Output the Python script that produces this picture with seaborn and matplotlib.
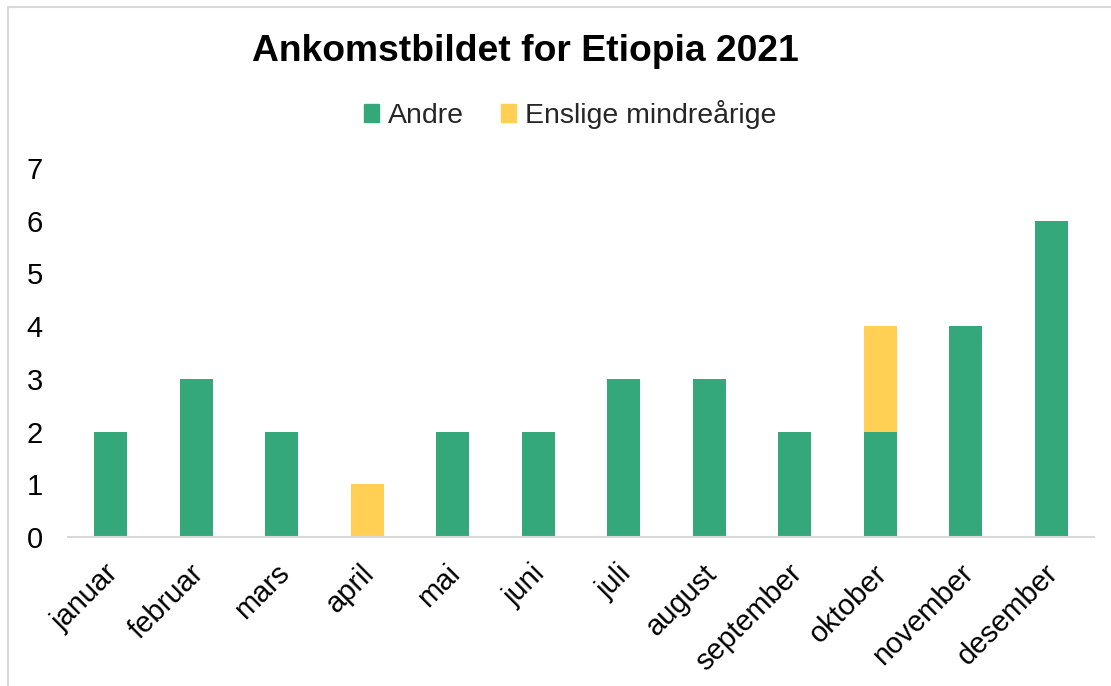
import matplotlib
matplotlib.use("Agg")
import matplotlib.pyplot as plt
import matplotlib.patches as mpatches
import matplotlib.transforms as mtransforms
from matplotlib.lines import Line2D
import seaborn as sns
import pandas as pd

months = ["januar", "februar", "mars", "april", "mai", "juni", "juli",
          "august", "september", "oktober", "november", "desember"]
andre = [2, 3, 2, 0, 2, 2, 3, 3, 2, 2, 4, 6]
enslige = [0, 0, 0, 1, 0, 0, 0, 0, 0, 2, 0, 0]
yticks = [0, 1, 2, 3, 4, 5, 6, 7]

GREEN = "#34A87B"
YELLOW = "#FFD054"

sns.set_theme(style="white")
plt.rcParams["font.family"] = ["Liberation Sans", "DejaVu Sans"]

df = pd.DataFrame({"month": months, "andre": andre, "enslige": enslige})
df["total"] = df["andre"] + df["enslige"]

fig = plt.figure(figsize=(11.11, 6.86), dpi=100)
ax = fig.add_axes([0.0612, 0.2172, 0.9235, 0.5379])

sns.barplot(data=df, x="month", y="total", color=YELLOW, saturation=1,
            width=0.39, ax=ax, edgecolor="none")
sns.barplot(data=df, x="month", y="andre", color=GREEN, saturation=1,
            width=0.39, ax=ax, edgecolor="none")

ax.set_ylim(0, 7)
ax.set_xlim(-0.5, len(months) - 0.5)
ax.set_yticks(yticks)
ax.set_yticklabels([str(t) for t in yticks], fontsize=21, color="black")
ax.set_xticks(range(len(months)))
ax.set_xticklabels(months, rotation=45, ha="right", va="top", rotation_mode="anchor",
                   fontsize=21, color="black")
ax.tick_params(axis="y", length=0, pad=18)
ax.tick_params(axis="x", length=0, pad=16)
shift = mtransforms.ScaledTranslation(-0.07, 0, fig.dpi_scale_trans)
for lab in ax.get_xticklabels():
    lab.set_transform(lab.get_transform() + shift)
ax.set_xlabel("")
ax.set_ylabel("")
for s in ["top", "right", "left"]:
    ax.spines[s].set_visible(False)
ax.spines["bottom"].set_color("#D9D9D9")
ax.spines["bottom"].set_linewidth(1.5)
ax.grid(False)

fig.text(0.4725, 0.925, "Ankomstbildet for Etiopia 2021", ha="center", va="center",
         fontsize=26.8, fontweight="bold", color="black")

handles = [mpatches.Patch(color=GREEN, label="Andre"),
           mpatches.Patch(color=YELLOW, label="Enslige mindreårige")]
fig.legend(handles=handles, loc="center", bbox_to_anchor=(0.513, 0.833), ncol=2,
           frameon=False, fontsize=20.5, handlelength=0.55, handleheight=0.55,
           handletextpad=0.3, columnspacing=1.3)

# outer chart border (left and top edges visible)
fig.add_artist(Line2D([0.0075, 0.0075], [0, 0.99], transform=fig.transFigure,
                      color="#D9D9D9", linewidth=1.5))
fig.add_artist(Line2D([0.0075, 1.0], [0.99, 0.99], transform=fig.transFigure,
                      color="#D9D9D9", linewidth=1.5))

fig.savefig("out.png", dpi=100, facecolor="white")
